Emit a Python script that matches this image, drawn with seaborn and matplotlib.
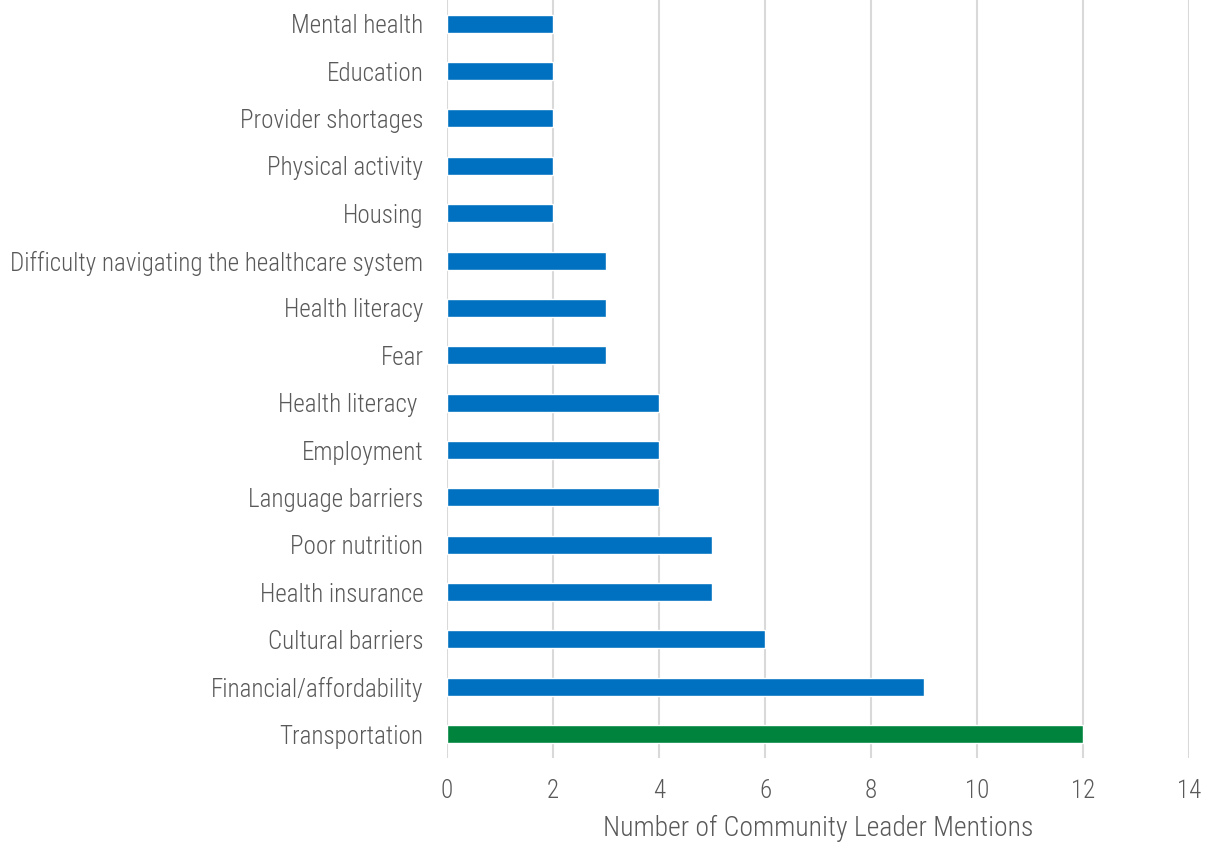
import pandas as pd
import matplotlib
matplotlib.use('Agg')
import matplotlib.pyplot as plt
import seaborn as sns

# Categories listed top to bottom as in the chart
categories = [
    'Mental health', 'Education', 'Provider shortages', 'Physical activity',
    'Housing', 'Difficulty navigating the healthcare system', 'Health literacy',
    'Fear', 'Health literacy ', 'Employment', 'Language barriers',
    'Poor nutrition', 'Health insurance', 'Cultural barriers',
    'Financial/affordability', 'Transportation',
]
mentions = [2, 2, 2, 2, 2, 3, 3, 3, 4, 4, 4, 5, 5, 6, 9, 12]
highlight = ['Transportation']

x_ticks = [0, 2, 4, 6, 8, 10, 12, 14]

df = pd.DataFrame({'category': categories, 'mentions': mentions})
df['group'] = ['top' if c in highlight else 'other' for c in df['category']]

sns.set_style('white')
plt.rcParams['font.family'] = ['Roboto Condensed', 'Liberation Sans Narrow',
                               'Roboto', 'DejaVu Sans']
plt.rcParams['font.weight'] = 300
plt.rcParams['axes.labelweight'] = 300

fig = plt.figure(figsize=(12.05, 8.44), dpi=100)
ax = fig.add_axes([0.371, 0.102, 0.616, 0.898])

sns.barplot(data=df, y='category', x='mentions', hue='group',
            palette={'other': '#0070c0', 'top': '#00843d'},
            order=categories, dodge=False, width=0.38, legend=False,
            saturation=1, ax=ax, zorder=3)

ax.set_xlim(0, 14)
ax.set_ylim(15.5, -0.5)
ax.set_xticks(x_ticks)
ax.xaxis.grid(True, color='#d9d9d9', linewidth=1.5, zorder=0)
ax.set_axisbelow(True)
for s in ax.spines.values():
    s.set_visible(False)

ax.tick_params(axis='both', length=0, labelsize=18, labelcolor='#595959')
ax.tick_params(axis='x', pad=15)
ax.tick_params(axis='y', pad=17)
ax.set_ylabel('')
ax.set_xlabel('Number of Community Leader Mentions', fontsize=20,
              fontweight=300, color='#595959', labelpad=9)

plt.savefig('out.png', dpi=100)
